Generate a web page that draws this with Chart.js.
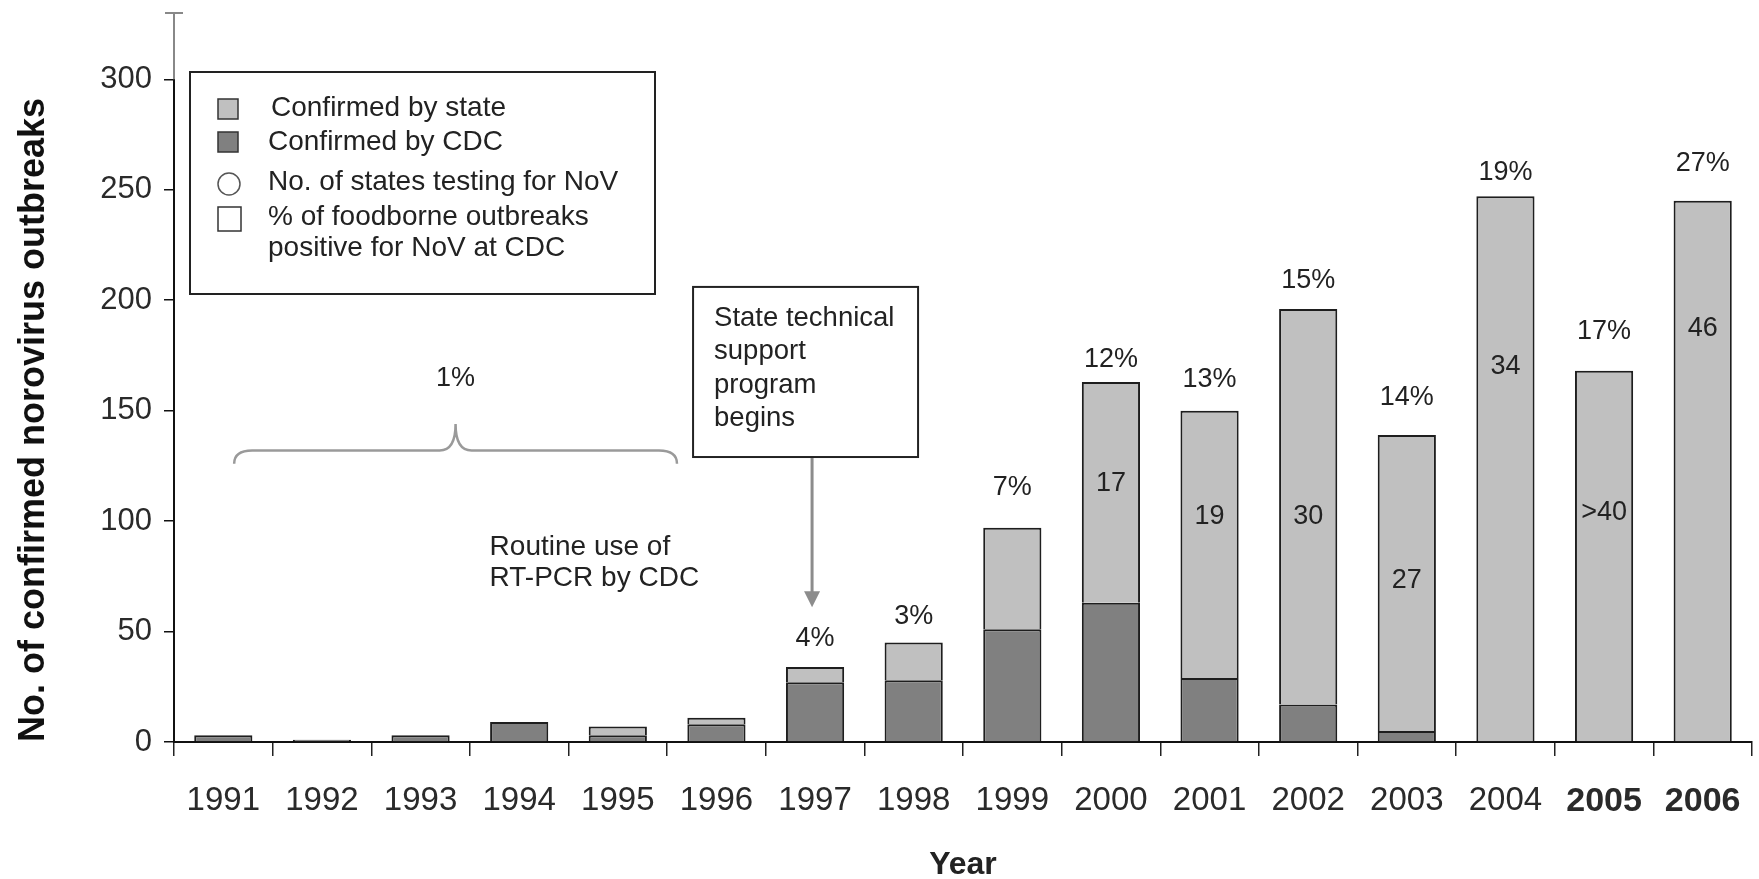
<!DOCTYPE html>
<html>
<head>
<meta charset="utf-8">
<title>Confirmed norovirus outbreaks</title>
<script src="https://cdn.jsdelivr.net/npm/chart.js@4.4.1/dist/chart.umd.min.js"></script>
<style>
  html, body { margin: 0; padding: 0; background: #fff; }
</style>
</head>
<body>
<canvas id="noroChart" width="1759" height="879"></canvas>
<script>
// values
const years = ['1991', '1992', '1993', '1994', '1995', '1996', '1997', '1998',
               '1999', '2000', '2001', '2002', '2003', '2004', '2005', '2006'];
const cdcConfirmed   = [3, 1, 3, 9, 3, 8, 27, 28, 51, 63, 29, 17, 5, 0, 0, 0];
const stateConfirmed = [0, 0, 0, 0, 4, 3, 7, 17, 46, 100, 121, 179, 134, 247, 168, 245];
const pctPositive    = ['', '', '', '', '', '', '4%', '3%', '7%', '12%', '13%', '15%', '14%', '19%', '17%', '27%'];
const statesTesting  = ['', '', '', '', '', '', '', '', '', '17', '19', '30', '27', '34', '>40', '46'];
const earlyPct = '1%';
const yTicks = [0, 50, 100, 150, 200, 250, 300];

// where the annotation texts sit, in y-axis units
const pctLabelAt    = [0, 0, 0, 0, 0, 0, 47, 57, 115, 173, 164, 209, 156, 258, 186, 262];
const statesLabelAt = [0, 0, 0, 0, 0, 0, 0, 0, 0, 117, 102, 102, 73, 170, 104, 187];

const FONT = "'Liberation Sans', Arial, sans-serif";
const LIGHT = '#c0c0c0';
const DARK = '#808080';
const INK = '#222';

function drawBrace(ctx, L, R, yLine, yTip, yEnd) {
    const M = (L + R) / 2;
    ctx.beginPath();
    ctx.moveTo(L, yEnd);
    ctx.quadraticCurveTo(L, yLine, L + 18, yLine);
    ctx.lineTo(M - 16, yLine);
    ctx.quadraticCurveTo(M, yLine, M, yTip);
    ctx.quadraticCurveTo(M, yLine, M + 16, yLine);
    ctx.lineTo(R - 18, yLine);
    ctx.quadraticCurveTo(R, yLine, R, yEnd);
    ctx.stroke();
}

const annotations = {
    id: 'annotations',
    afterDraw(chart) {
        const { ctx, chartArea } = chart;
        const x = chart.scales.x;
        const y = chart.scales.y;
        const cat = x.getPixelForValue(1) - x.getPixelForValue(0);
        ctx.save();

        // grey top of the y axis with its cap
        ctx.strokeStyle = '#888';
        ctx.lineWidth = 2;
        ctx.beginPath();
        ctx.moveTo(chartArea.left, y.getPixelForValue(300));
        ctx.lineTo(chartArea.left, chartArea.top);
        ctx.moveTo(chartArea.left - 9, chartArea.top);
        ctx.lineTo(chartArea.left + 9, chartArea.top);
        ctx.stroke();

        ctx.fillStyle = INK;
        ctx.textAlign = 'center';
        ctx.textBaseline = 'middle';
        ctx.font = '27px ' + FONT;

        // % positive above the bars
        pctPositive.forEach((t, i) => {
            if (!t) return;
            ctx.fillText(t, x.getPixelForValue(i), y.getPixelForValue(pctLabelAt[i]));
        });
        // number of states testing, inside the bars
        statesTesting.forEach((t, i) => {
            if (!t) return;
            ctx.fillText(t, x.getPixelForValue(i), y.getPixelForValue(statesLabelAt[i]));
        });

        // brace over 1991-1995
        const bL = x.getPixelForValue(0) + 0.11 * cat;
        const bR = x.getPixelForValue(4) + 0.6 * cat;
        ctx.strokeStyle = '#9a9a9a';
        ctx.lineWidth = 2.5;
        drawBrace(ctx, bL, bR, y.getPixelForValue(132), y.getPixelForValue(144), y.getPixelForValue(126));
        ctx.fillText(earlyPct, (bL + bR) / 2, y.getPixelForValue(164.5));

        ctx.textAlign = 'left';
        ctx.font = '28px ' + FONT;
        const rtX = x.getPixelForValue(2) + 0.7 * cat;
        ctx.fillText('Routine use of', rtX, y.getPixelForValue(88));
        ctx.fillText('RT-PCR by CDC', rtX, y.getPixelForValue(74));

        // state technical support box and arrow
        const ax = x.getPixelForValue(6) - 3;
        const boxL = ax - 119, boxW = 225;
        const boxT = y.getPixelForValue(206), boxB = y.getPixelForValue(129);
        ctx.fillStyle = '#fff';
        ctx.fillRect(boxL, boxT, boxW, boxB - boxT);
        ctx.strokeStyle = INK;
        ctx.lineWidth = 2;
        ctx.strokeRect(boxL, boxT, boxW, boxB - boxT);
        ctx.fillStyle = INK;
        ctx.font = '27.5px ' + FONT;
        ['State technical', 'support', 'program', 'begins'].forEach((line, k) => {
            ctx.fillText(line, boxL + 21, boxT + 31 + k * 33.5);
        });
        const tipY = y.getPixelForValue(61);
        ctx.strokeStyle = '#8c8c8c';
        ctx.lineWidth = 3;
        ctx.beginPath();
        ctx.moveTo(ax, boxB + 1);
        ctx.lineTo(ax, tipY - 12);
        ctx.stroke();
        ctx.fillStyle = '#8c8c8c';
        ctx.beginPath();
        ctx.moveTo(ax - 8, tipY - 16);
        ctx.lineTo(ax + 8, tipY - 16);
        ctx.lineTo(ax, tipY);
        ctx.closePath();
        ctx.fill();

        // legend box
        const lx = chartArea.left + 16, ly = 72;
        ctx.fillStyle = '#fff';
        ctx.fillRect(lx, ly, 465, 222);
        ctx.strokeStyle = INK;
        ctx.lineWidth = 2;
        ctx.strokeRect(lx, ly, 465, 222);
        ctx.lineWidth = 1.5;
        ctx.strokeStyle = '#333';
        ctx.fillStyle = LIGHT;
        ctx.fillRect(lx + 28, ly + 27, 20, 20);
        ctx.strokeRect(lx + 28, ly + 27, 20, 20);
        ctx.fillStyle = DARK;
        ctx.fillRect(lx + 28, ly + 60, 20, 20);
        ctx.strokeRect(lx + 28, ly + 60, 20, 20);
        ctx.strokeStyle = '#555';
        ctx.beginPath();
        ctx.arc(lx + 39, ly + 112, 11, 0, Math.PI * 2);
        ctx.stroke();
        ctx.strokeStyle = '#333';
        ctx.strokeRect(lx + 28, ly + 135, 23, 24);
        ctx.fillStyle = INK;
        ctx.font = '28px ' + FONT;
        ctx.fillText('Confirmed by state', lx + 81, ly + 36);
        ctx.fillText('Confirmed by CDC', lx + 78, ly + 70);
        ctx.fillText('No. of states testing for NoV', lx + 78, ly + 110);
        ctx.fillText('% of foodborne outbreaks', lx + 78, ly + 145);
        ctx.fillText('positive for NoV at CDC', lx + 78, ly + 176);

        ctx.restore();
    }
};

const barStyle = {
    barPercentage: 0.59,
    categoryPercentage: 1.0,
    borderColor: '#1e1e1e',
    borderWidth: { top: 2, left: 2, right: 2, bottom: 0 },
    borderSkipped: false
};

const ctx = document.getElementById('noroChart').getContext('2d');
window.noroChart = new Chart(ctx, {
    type: 'bar',
    data: {
        labels: years,
        datasets: [
            Object.assign({ label: 'Confirmed by CDC', data: cdcConfirmed, backgroundColor: DARK }, barStyle),
            Object.assign({ label: 'Confirmed by state', data: stateConfirmed, backgroundColor: LIGHT }, barStyle)
        ]
    },
    options: {
        responsive: false,
        animation: false,
        layout: { padding: { top: 13, right: 7, left: 0, bottom: 0 } },
        plugins: {
            legend: { display: false },
            tooltip: { enabled: false }
        },
        scales: {
            x: {
                stacked: true,
                grid: { offset: true, drawOnChartArea: false, tickLength: 14, color: '#222', lineWidth: 1.5 },
                border: { color: '#111', width: 2 },
                ticks: {
                    color: '#2a2a2a',
                    padding: 25,
                    maxRotation: 0,
                    autoSkip: false,
                    font: (c) => c.index >= 14
                        ? { family: FONT, size: 34, weight: 'bold' }
                        : { family: FONT, size: 33 }
                },
                title: {
                    display: true,
                    text: 'Year',
                    color: '#222',
                    font: { family: FONT, size: 32, weight: 'bold' },
                    padding: { top: 0, bottom: -5 }
                },
                afterFit(scale) {
                    scale.height = 137;
                    scale.paddingLeft = 0;
                    scale.paddingRight = 0;
                }
            },
            y: {
                stacked: true,
                min: 0,
                max: 330,
                afterBuildTicks(scale) { scale.ticks = yTicks.map(v => ({ value: v })); },
                grid: { drawOnChartArea: false, tickLength: 10, color: '#111', lineWidth: 1.5 },
                border: { color: '#111', width: 2 },
                ticks: {
                    color: '#2a2a2a',
                    padding: 12,
                    font: { family: FONT, size: 31 }
                },
                title: {
                    display: true,
                    text: 'No. of confirmed norovirus outbreaks',
                    align: 'start',
                    color: '#111',
                    font: { family: FONT, size: 36, weight: 'bold' },
                    padding: { top: 12, bottom: 0 }
                },
                afterFit(scale) {
                    scale.width = 174;
                    scale.paddingTop = 0;
                    scale.paddingBottom = 0;
                }
            }
        }
    },
    plugins: [annotations]
});
</script>
</body>
</html>
